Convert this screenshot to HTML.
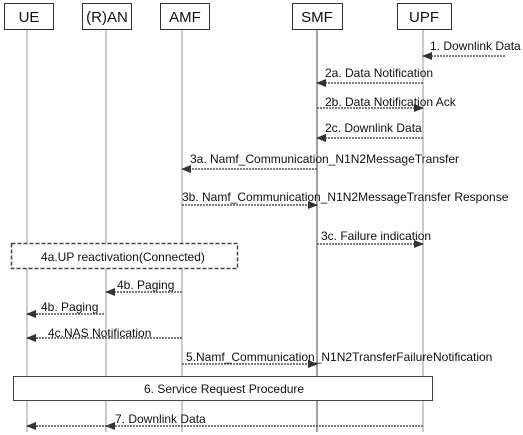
<!DOCTYPE html>
<html><head><style>
html,body{margin:0;padding:0;background:#fff;}
svg{display:block;font-family:"Liberation Sans",sans-serif;}
</style></head><body>
<svg width="523" height="435" viewBox="0 0 523 435" xmlns="http://www.w3.org/2000/svg">
<defs>
<marker id="a" markerWidth="10" markerHeight="8" refX="9" refY="4" orient="auto" markerUnits="userSpaceOnUse">
<path d="M0,0 L10,4 L0,8 Z" fill="#333"/>
</marker>
</defs>
<g stroke="#999" stroke-width="1">
<line x1="27" y1="29" x2="27" y2="432"/>
<line x1="106" y1="29" x2="106" y2="432"/>
<line x1="182" y1="29" x2="182" y2="432"/>
<line x1="423" y1="29" x2="423" y2="432"/>
</g>
<line x1="317" y1="29" x2="317" y2="432" stroke="#444"/>
<g fill="#fff" stroke="#333">
<rect x="4.5" y="3.5" width="49" height="26"/>
<rect x="82.5" y="3.5" width="49" height="26"/>
<rect x="160.5" y="3.5" width="49" height="26"/>
<rect x="292.5" y="3.5" width="50" height="26"/>
<rect x="397.5" y="3.5" width="54" height="26"/>
</g>
<g font-size="15" text-anchor="middle" fill="#111">
<text x="29" y="22">UE</text>
<text x="107" y="22">(R)AN</text>
<text x="185" y="22">AMF</text>
<text x="317" y="22">SMF</text>
<text x="424" y="22">UPF</text>
</g>
<g stroke="#555" stroke-width="1.5" stroke-dasharray="2,1" marker-end="url(#a)">
<line x1="505" y1="56" x2="423" y2="56"/>
<line x1="423" y1="83" x2="317" y2="83"/>
<line x1="317" y1="108" x2="423" y2="108"/>
<line x1="423" y1="138" x2="317" y2="138"/>
<line x1="317" y1="169" x2="182" y2="169"/>
<line x1="182" y1="205" x2="317" y2="205"/>
<line x1="317" y1="244" x2="423" y2="244"/>
<line x1="182" y1="292" x2="106" y2="292"/>
<line x1="104" y1="314" x2="27" y2="314"/>
<line x1="182" y1="338" x2="27" y2="338"/>
<line x1="182" y1="364" x2="317" y2="364"/>
<line x1="423" y1="426" x2="106" y2="426"/>
<line x1="110" y1="426" x2="27" y2="426"/>
</g>
<rect x="11.5" y="243.5" width="226" height="25" fill="#fff" stroke="#444" stroke-width="1.5" stroke-dasharray="4,2"/>
<rect x="13.5" y="376.5" width="419" height="24" fill="#fff" stroke="#444"/>
<g font-size="12" fill="#111">
<text x="430" y="50">1. Downlink Data</text>
<text x="325" y="77">2a. Data Notification</text>
<text x="325" y="106">2b. Data Notification Ack</text>
<text x="325" y="132">2c. Downlink Data</text>
<text x="190" y="163">3a. Namf_Communication_N1N2MessageTransfer</text>
<text x="182" y="201">3b. Namf_Communication_N1N2MessageTransfer Response</text>
<text x="321" y="240">3c. Failure indication</text>
<text x="41" y="261">4a.UP reactivation(Connected)</text>
<text x="117" y="289">4b. Paging</text>
<text x="41" y="311">4b. Paging</text>
<text x="48" y="337">4c.NAS Notification</text>
<text x="186" y="361">5.Namf_Communication_N1N2TransferFailureNotification</text>
<text x="144" y="393">6. Service Request Procedure</text>
<text x="115" y="423">7. Downlink Data</text>
</g>
</svg>
</body></html>
